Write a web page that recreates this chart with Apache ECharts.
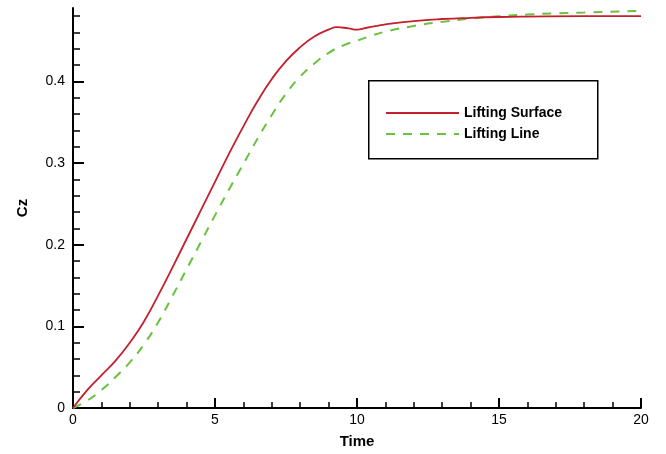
<!DOCTYPE html>
<html>
<head>
<meta charset="utf-8">
<script src="https://cdn.jsdelivr.net/npm/echarts@6/dist/echarts.min.js"></script>
<style>
  html, body { margin: 0; padding: 0; background: #fff; }
  #chart { width: 666px; height: 454px; }
</style>
</head>
<body>
<div id="chart"></div>
<script>
// Lift coefficient history: lifting-surface vs lifting-line model
const surfaceTime = [0, 0.5, 1, 1.5, 2, 2.5, 3, 3.5, 4, 4.5, 5, 5.5, 6, 6.5, 7, 7.5, 8, 8.5, 9, 9.3, 9.7, 10, 10.3, 10.7, 11, 12, 13, 14, 15, 16, 18, 20];
const surfaceCz   = [0, 0.022, 0.040, 0.058, 0.080, 0.106, 0.138, 0.172, 0.207, 0.242, 0.277, 0.312, 0.345, 0.376, 0.403, 0.425, 0.442, 0.455, 0.4635, 0.4665, 0.465, 0.4635, 0.4655, 0.468, 0.470, 0.474, 0.4765, 0.478, 0.479, 0.4795, 0.480, 0.480];

const lineTime = [0, 0.5, 1, 1.5, 2, 2.5, 3, 3.5, 4, 4.5, 5, 5.5, 6, 6.5, 7, 7.5, 8, 8.5, 9, 9.5, 10, 10.5, 11, 12, 13, 14, 15, 16, 17, 18, 20];
const lineCz   = [0, 0.009, 0.022, 0.038, 0.056, 0.078, 0.105, 0.137, 0.170, 0.203, 0.236, 0.268, 0.299, 0.330, 0.359, 0.385, 0.406, 0.422, 0.435, 0.444, 0.450, 0.456, 0.461, 0.468, 0.473, 0.477, 0.480, 0.482, 0.4835, 0.4845, 0.4865];

const seriesNames = ['Lifting Surface', 'Lifting Line'];
const yMajorTicks = [0, 0.1, 0.2, 0.3, 0.4];
const yMinorTicks = [0.02, 0.04, 0.06, 0.08, 0.12, 0.14, 0.16, 0.18, 0.22, 0.24, 0.26, 0.28, 0.32, 0.34, 0.36, 0.38, 0.42, 0.44, 0.46, 0.48];

const FONT = '"Liberation Sans", Arial, Helvetica, sans-serif';
const pairs = (xs, ys) => xs.map((x, i) => [x, ys[i]]);

const chart = echarts.init(document.getElementById('chart'));
chart.setOption({
  animation: false,
  backgroundColor: '#ffffff',
  grid: { left: 73, right: 25, top: 8, bottom: 39, containLabel: false },
  graphic: [{
    type: 'rect',
    left: 368, top: 80,
    shape: { width: 229, height: 78 },
    style: { fill: '#ffffff', stroke: '#000000', lineWidth: 1.5 },
    z: 90
  }],
  legend: {
    data: seriesNames,
    orient: 'vertical',
    left: 385, top: 106,
    itemWidth: 73, itemHeight: 14, itemGap: 7, itemTextGap: 12,
    padding: 0,
    z: 100,
    itemStyle: { opacity: 0 },
    textStyle: { fontFamily: FONT, fontSize: 14, fontWeight: 'bold', color: '#000' }
  },
  xAxis: {
    type: 'value',
    min: 0, max: 20, interval: 5,
    name: 'Time', nameLocation: 'middle', nameGap: 26,
    nameTextStyle: { fontFamily: FONT, fontSize: 15, fontWeight: 'bold', color: '#000' },
    axisLine: { onZero: false, lineStyle: { color: '#000', width: 2 } },
    axisTick: { inside: true, length: 10, lineStyle: { color: '#000', width: 2 } },
    minorTick: { show: true, splitNumber: 5, length: 6, lineStyle: { color: '#000', width: 1.5 } },
    axisLabel: { fontFamily: FONT, fontSize: 14, color: '#000', margin: 5 },
    splitLine: { show: false }
  },
  yAxis: [{
    type: 'value',
    min: 0, max: 0.49,
    name: 'Cz', nameLocation: 'middle', nameGap: 43, nameRotate: 90,
    nameTextStyle: { fontFamily: FONT, fontSize: 15, fontWeight: 'bold', color: '#000' },
    axisLine: { onZero: false, lineStyle: { color: '#000', width: 2 } },
    axisTick: { inside: true, length: 11, customValues: yMajorTicks, lineStyle: { color: '#000', width: 2 } },
    axisLabel: { fontFamily: FONT, fontSize: 14, color: '#000', margin: 8, customValues: yMajorTicks },
    splitLine: { show: false }
  }, {
    type: 'value',
    position: 'left',
    min: 0, max: 0.49,
    axisLine: { show: false },
    axisTick: { inside: true, length: 7, customValues: yMinorTicks, lineStyle: { color: '#000', width: 1.5 } },
    axisLabel: { show: false },
    splitLine: { show: false }
  }],
  series: [{
    name: seriesNames[0],
    type: 'line',
    data: pairs(surfaceTime, surfaceCz),
    smooth: 0.5,
    symbol: 'none',
    color: '#c4202c',
    lineStyle: { color: '#c4202c', width: 1.8 },
    z: 3
  }, {
    name: seriesNames[1],
    type: 'line',
    data: pairs(lineTime, lineCz),
    smooth: 0.5,
    symbol: 'none',
    color: '#69c23d',
    lineStyle: { color: '#69c23d', width: 2, type: [9, 8] },
    z: 2
  }]
});
</script>
</body>
</html>
